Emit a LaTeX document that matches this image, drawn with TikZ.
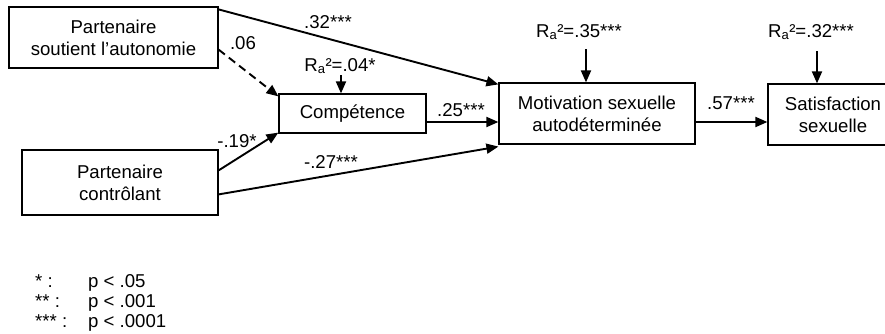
\documentclass[tikz,border=0pt]{standalone}
\usepackage{fontspec}
\setmainfont{Liberation Sans}
\usetikzlibrary{arrows.meta,calc}
\begin{document}
\begin{tikzpicture}[x=1pt,y=-1pt,
  txt/.style={font=\fontsize{18.6}{22}\selectfont},
  box/.style={txt,draw,line width=1.2pt,inner sep=0pt,align=center},
  lbl/.style={txt,inner sep=0pt,anchor=base},
  arr/.style={line width=1.9pt,-{Triangle[length=12pt,width=10pt]}},
  ]
\useasboundingbox (0,0) rectangle (885,333);

% variables
\node[box,minimum width=209pt,minimum height=61pt] (auto) at (113.5,37.5) {Partenaire\\soutient l’autonomie};
\node[box,minimum width=196pt,minimum height=65pt] (ctrl) at (120,182.5) {Partenaire\\contrôlant};
\node[box,minimum width=147pt,minimum height=39pt] (comp) at (352.5,113.5) {Compétence};
\node[box,minimum width=196pt,minimum height=61pt] (mot) at (597,113.5) {Motivation sexuelle\\autodéterminée};
\node[box,minimum width=130pt,minimum height=61pt] (sat) at (833,114.5) {Satisfaction\\sexuelle};

% explained variance
\node[lbl] (rcomp) at (340,71) {R\textsubscript{a}²=.04*};
\node[lbl] (rmot) at (579,37) {R\textsubscript{a}²=.35***};
\node[lbl] (rsat) at (811,37) {R\textsubscript{a}²=.32***};
\coordinate (rcompT) at (341,75);
\coordinate (rmotT) at (586,49);
\coordinate (rsatT) at (817,51);
\draw[arr] (rcompT) -- (rcompT |- comp.north);
\draw[arr] (rmotT) -- (rmotT |- mot.north);
\draw[arr] (rsatT) -- (rsatT |- sat.north);

% paths
\draw[arr] ($(auto.north east)+(0,3)$) -- ($(mot.north west)+(0,2)$);
\draw[arr,dashed,dash pattern=on 8pt off 5pt] ($(auto.south east)+(0,-19)$) -- ($(comp.north west)+(0,3)$);
\draw[arr] ($(ctrl.north east)+(0,21)$) -- ($(comp.south west)+(0,-1)$);
\draw[arr] ($(ctrl.north east)+(0,45)$) -- ($(mot.south west)+(0,2)$);
\draw[arr] ($(comp.east)+(0,8.5)$) -- ($(comp.east -| mot.west)+(0,8.5)$);
\draw[arr] ($(mot.east)+(0,8.5)$) -- ($(mot.east -| sat.west)+(0,8.5)$);

% coefficients
\node[lbl] (c32) at (328,28) {.32***};
\node[lbl] (c06) at (243,49.5) {.06};
\node[lbl] (c19) at (237,147) {-.19*};
\node[lbl] (c27) at (331,168) {-.27***};
\node[lbl] (c25) at (461,116) {.25***};
\node[lbl] (c57) at (731,109) {.57***};

% significance legend
\node[lbl,anchor=base west] (s1) at (35,287) {* :};
\node[lbl,anchor=base west] (s2) at (35,307) {** :};
\node[lbl,anchor=base west] (s3) at (35,327) {*** :};
\node[lbl,anchor=base west] (p1) at (88,287) {p < .05};
\node[lbl,anchor=base west] (p2) at (88,307) {p < .001};
\node[lbl,anchor=base west] (p3) at (88,327) {p < .0001};
\end{tikzpicture}
\end{document}
